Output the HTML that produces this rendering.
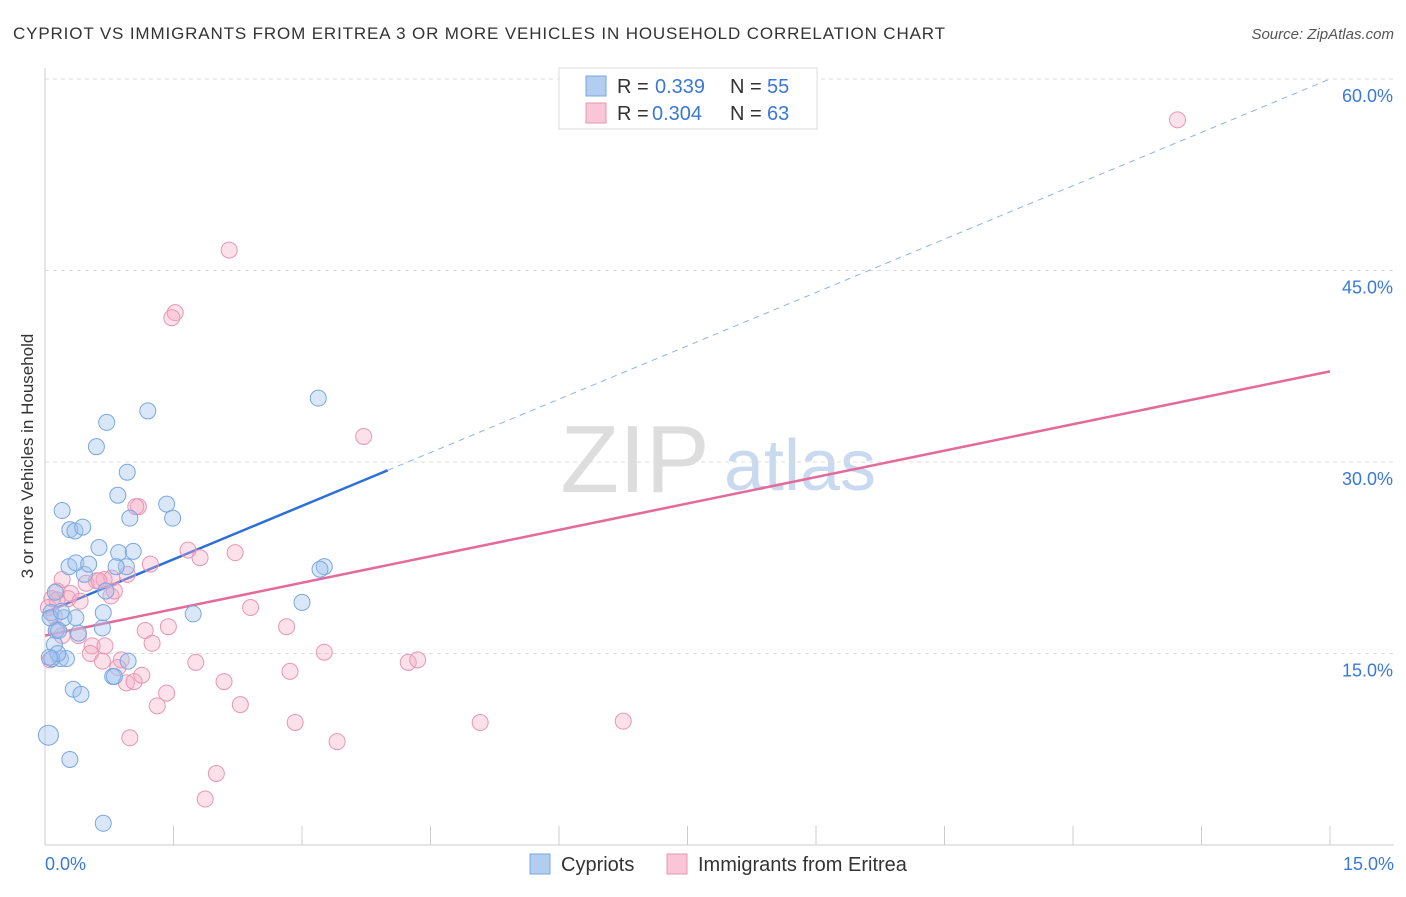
<!DOCTYPE html>
<html><head><meta charset="utf-8">
<style>
body{margin:0;background:#fff;font-family:"Liberation Sans",sans-serif;}
svg text{font-family:"Liberation Sans",sans-serif;}
</style></head>
<body>
<svg width="1406" height="892" viewBox="0 0 1406 892" xmlns="http://www.w3.org/2000/svg">
<text x="13" y="39" font-size="17" fill="#333" textLength="932" lengthAdjust="spacing">CYPRIOT VS IMMIGRANTS FROM ERITREA 3 OR MORE VEHICLES IN HOUSEHOLD CORRELATION CHART</text>
<text x="1394" y="39" font-size="15" fill="#555" text-anchor="end" font-style="italic">Source: ZipAtlas.com</text>
<text transform="translate(33,456) rotate(-90)" font-size="17" fill="#333" text-anchor="middle">3 or more Vehicles in Household</text>
<g>
<text x="635" y="492" font-size="96" fill="#ddd" text-anchor="middle" font-family="Liberation Serif,serif">ZIP</text>
<text x="800" y="490" font-size="72" fill="#c9daf0" text-anchor="middle">atlas</text>
</g>
<g id="grid"></g>
<g id="axes"></g>
<g id="lines"></g>
<g id="points"></g>
<g>
<rect x="559" y="68" width="258" height="61" fill="#fff" stroke="#ddd"/>
<rect x="586" y="76" width="20" height="20" fill="#b3cdf0" stroke="#7aa7e0"/>
<text x="617" y="93" font-size="20" fill="#333">R = </text><text x="655" y="93" font-size="20" fill="#3a78d8">0.339</text>
<text x="730" y="93" font-size="20" fill="#333">N = </text><text x="767" y="93" font-size="20" fill="#3a78d8">55</text>
<rect x="586" y="103" width="20" height="20" fill="#f8c6d6" stroke="#e896b3"/>
<text x="617" y="120" font-size="20" fill="#333">R = </text><text x="652" y="120" font-size="20" fill="#3a78d8">0.304</text>
<text x="730" y="120" font-size="20" fill="#333">N = </text><text x="767" y="120" font-size="20" fill="#3a78d8">63</text>
</g>
<g>
<rect x="530" y="854" width="20" height="20" fill="#b3cdf0" stroke="#7aa7e0"/>
<text x="561" y="871" font-size="20" fill="#333">Cypriots</text>
<rect x="667" y="854" width="20" height="20" fill="#f8c6d6" stroke="#e896b3"/>
<text x="698" y="871" font-size="20" fill="#333">Immigrants from Eritrea</text>
</g>
<script>
const xTicksLabels=["0.0%","15.0%"];
const yTickValues=[15,30,45,60];
const blueX=[.04,.68,.29,.33,.42,.18,.25,.11,.13,.07,.12,.22,.39,.36,.67,.68,.71,.46,.28,.36,.51,.63,.86,1.03,.95,.83,.29,.35,.44,.20,.99,.85,1.42,1.49,.96,.60,.72,1.20,3.19,3.26,3.21,3.00,1.73,.79,.97,.81,.16,.06,.19,.08,.15,.05];
const blueY=[8.6,1.7,6.7,12.2,11.8,14.6,14.6,15.7,16.8,18.2,19.8,17.8,16.6,17.8,17.0,18.2,19.9,21.2,21.8,22.1,22.0,23.3,22.9,23.0,21.8,21.8,24.7,24.6,24.9,26.2,25.6,27.4,26.7,25.6,29.2,31.2,33.1,34.0,35.0,21.8,21.6,19.0,18.1,13.2,14.4,13.2,16.8,17.8,18.3,14.6,15.0,14.7];
const pinkX=[13.22,2.15,1.52,1.48,3.72,1.09,1.06,1.67,1.81,2.22,1.23,.96,.78,.60,.48,.69,.20,.14,.30,.27,.41,.77,.81,.63,.08,.11,.14,.20,.39,.55,.70,.53,.89,.85,1.17,1.44,1.25,2.40,2.82,3.26,2.86,4.24,4.35,1.76,.67,.95,1.04,1.13,2.09,1.42,2.28,1.31,2.92,5.08,6.75,.99,3.41,2.00,1.87,.06,.04,.14];
const pinkY=[56.8,46.6,41.7,41.3,32.0,26.5,26.5,23.1,22.5,22.9,22.0,21.2,20.9,20.7,20.5,20.8,20.8,19.9,19.7,19.3,19.1,19.5,19.9,20.7,19.3,17.9,16.9,16.4,16.4,15.6,15.6,15.0,14.5,13.9,16.8,17.1,15.8,18.6,17.1,15.1,13.6,14.3,14.5,14.3,14.4,12.7,12.8,13.3,12.8,11.9,11.0,10.9,9.6,9.6,9.7,8.4,8.1,5.6,3.6,14.5,18.6,19.2];
const blueFit=[18.2,60.0];
const pinkFit=[16.4,37.1];
const blueSolidEnd=4.0;
const NS="http://www.w3.org/2000/svg";
const X=v=>45+v/15*1285;
const Y=v=>845-v/15*191.5;
function mk(t,a,p){const e=document.createElementNS(NS,t);for(const k in a)e.setAttribute(k,a[k]);p.appendChild(e);return e;}
const grid=document.getElementById('grid'),axes=document.getElementById('axes');
yTickValues.forEach(v=>{
 const l=mk('line',{x1:45,x2:1394,y1:Y(v),y2:Y(v),stroke:'#ddd','stroke-dasharray':'4,4'},grid);
 
 
 const t=mk('text',{x:1393,y:Y(v)+23,'font-size':18,fill:'#3a78d8','text-anchor':'end'},axes);
 t.textContent=v.toFixed(1)+'%';
 
 
});
const ax=mk('line',{x1:45,x2:1394,y1:845,y2:845,stroke:'#ccc'},axes);


const ay=mk('line',{x1:45,x2:45,y1:68,y2:845,stroke:'#ccc'},axes);


for(let i=0;i<=10;i++){const t=mk('line',{x1:X(i*1.5),x2:X(i*1.5),y1:826,y2:845,stroke:'#ccc'},axes);
 
 }
const xl0=mk('text',{x:45,y:870,'font-size':18,fill:'#3a78d8'},axes);xl0.textContent=xTicksLabels[0];


const xl1=mk('text',{x:1394,y:870,'font-size':18,fill:'#3a78d8','text-anchor':'end'},axes);xl1.textContent=xTicksLabels[1];


const pts=document.getElementById('points');
pinkX.forEach((x,i)=>{const c=mk('circle',{cx:X(x),cy:Y(pinkY[i]),r:8,fill:'rgba(245,170,195,0.35)',stroke:'#e896b3','stroke-width':1},pts);
 
 });
blueX.forEach((x,i)=>{const c=mk('circle',{cx:X(x),cy:Y(blueY[i]),r:(i==0?10:8),fill:'rgba(160,196,240,0.4)',stroke:'#7aa7e0','stroke-width':1},pts);
 
 });
const lines=document.getElementById('lines');
const bAt=v=>blueFit[0]+(blueFit[1]-blueFit[0])*v/15;
const l1=mk('line',{x1:X(0),y1:Y(blueFit[0]),x2:X(blueSolidEnd),y2:Y(bAt(blueSolidEnd)),stroke:'#2e6fd6','stroke-width':2.5},lines);


const l2=mk('line',{x1:X(blueSolidEnd),y1:Y(bAt(blueSolidEnd)),x2:X(15),y2:Y(blueFit[1]),stroke:'#8fb2e6','stroke-width':1,'stroke-dasharray':'6,5'},lines);


const l3=mk('line',{x1:X(0),y1:Y(pinkFit[0]),x2:X(15),y2:Y(pinkFit[1]),stroke:'#e46a9a','stroke-width':2.5},lines);


</script>
</svg>
</body></html>
